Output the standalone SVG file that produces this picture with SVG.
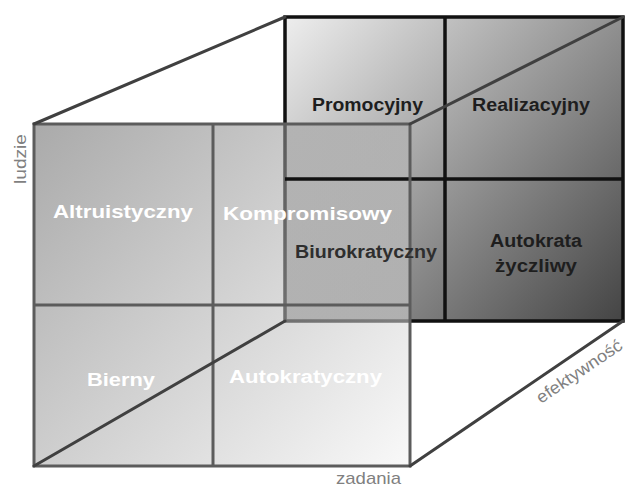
<svg xmlns="http://www.w3.org/2000/svg" width="627" height="488" viewBox="0 0 627 488">
<defs>
<linearGradient id="gBack" gradientUnits="userSpaceOnUse" x1="285" y1="17" x2="623" y2="321">
<stop offset="0" stop-color="#eeeeee"/>
<stop offset="1" stop-color="#444444"/>
</linearGradient>
<linearGradient id="gFront" gradientUnits="userSpaceOnUse" x1="34" y1="124" x2="410" y2="466">
<stop offset="0" stop-color="#646464"/>
<stop offset="1" stop-color="#f4f4f4"/>
</linearGradient>
</defs>
<style>
.lbl{font-family:"Liberation Sans",Arial,sans-serif;font-weight:bold;font-size:18px}
.dark{fill:#1e1e1e}
.light{fill:#ffffff}
.axis{font-family:"Liberation Sans",Arial,sans-serif;font-size:17px;fill:#808080}
.backline{stroke:#111111;stroke-width:3.5;fill:none}
.backfill{fill:url(#gBack);stroke:#111111;stroke-width:3.5}
.frontfill{fill:url(#gFront);fill-opacity:0.55;stroke:none}
.frontline{stroke:#5c5c5c;stroke-width:3;fill:none}
.edge{stroke:#404040;stroke-width:3;fill:none;stroke-linecap:round}
</style>
<rect width="627" height="488" fill="#ffffff"/>
<g id="back-face">
<rect x="285" y="17" width="338" height="304" class="backfill"/>
<line x1="445" y1="17" x2="445" y2="321" class="backline"/>
</g>
<g id="front-face">
<rect x="34" y="124" width="376" height="342" class="frontfill"/>
<line x1="285" y1="179" x2="623" y2="179" class="backline"/>
<rect x="34" y="124" width="376" height="342" class="frontline"/>
<line x1="213" y1="124" x2="213" y2="466" class="frontline"/>
<line x1="34" y1="305" x2="410" y2="305" class="frontline"/>
</g>
<g id="connectors">
<line x1="34" y1="124" x2="285" y2="17" class="edge"/>
<line x1="410" y1="124" x2="623" y2="17" class="edge"/>
<line x1="34" y1="466" x2="285" y2="321" class="edge"/>
<line x1="410" y1="466" x2="623" y2="321" class="edge"/>
</g>
<g id="promocyjny"><text class="lbl dark" x="312" y="111" textLength="111" lengthAdjust="spacingAndGlyphs">Promocyjny</text></g>
<g id="realizacyjny"><text class="lbl dark" x="472" y="111" textLength="118" lengthAdjust="spacingAndGlyphs">Realizacyjny</text></g>
<g id="biurokratyczny"><text class="lbl" x="295" y="258" font-size="17" fill="#2e2e2e" textLength="142" lengthAdjust="spacingAndGlyphs">Biurokratyczny</text></g>
<g id="autokrata-zyczliwy">
<text class="lbl dark" x="490" y="247" font-size="17" textLength="92" lengthAdjust="spacingAndGlyphs">Autokrata</text>
<text class="lbl dark" x="495" y="272" font-size="17" textLength="82" lengthAdjust="spacingAndGlyphs">życzliwy</text>
</g>
<g id="altruistyczny"><text class="lbl light" x="53" y="218" textLength="140" lengthAdjust="spacingAndGlyphs">Altruistyczny</text></g>
<g id="kompromisowy"><text class="lbl light" x="223" y="220" textLength="169" lengthAdjust="spacingAndGlyphs">Kompromisowy</text></g>
<g id="bierny"><text class="lbl light" x="87" y="386" textLength="68" lengthAdjust="spacingAndGlyphs">Bierny</text></g>
<g id="autokratyczny"><text class="lbl light" x="229" y="383" textLength="153" lengthAdjust="spacingAndGlyphs">Autokratyczny</text></g>
<g id="axes">
<text class="axis" transform="translate(26,184) rotate(-90)" textLength="50" lengthAdjust="spacingAndGlyphs">ludzie</text>
<text class="axis" x="336" y="484" textLength="65" lengthAdjust="spacingAndGlyphs">zadania</text>
<text class="axis" font-size="16" transform="translate(541,404) rotate(-34)" textLength="100" lengthAdjust="spacingAndGlyphs">efektywność</text>
</g>
</svg>
